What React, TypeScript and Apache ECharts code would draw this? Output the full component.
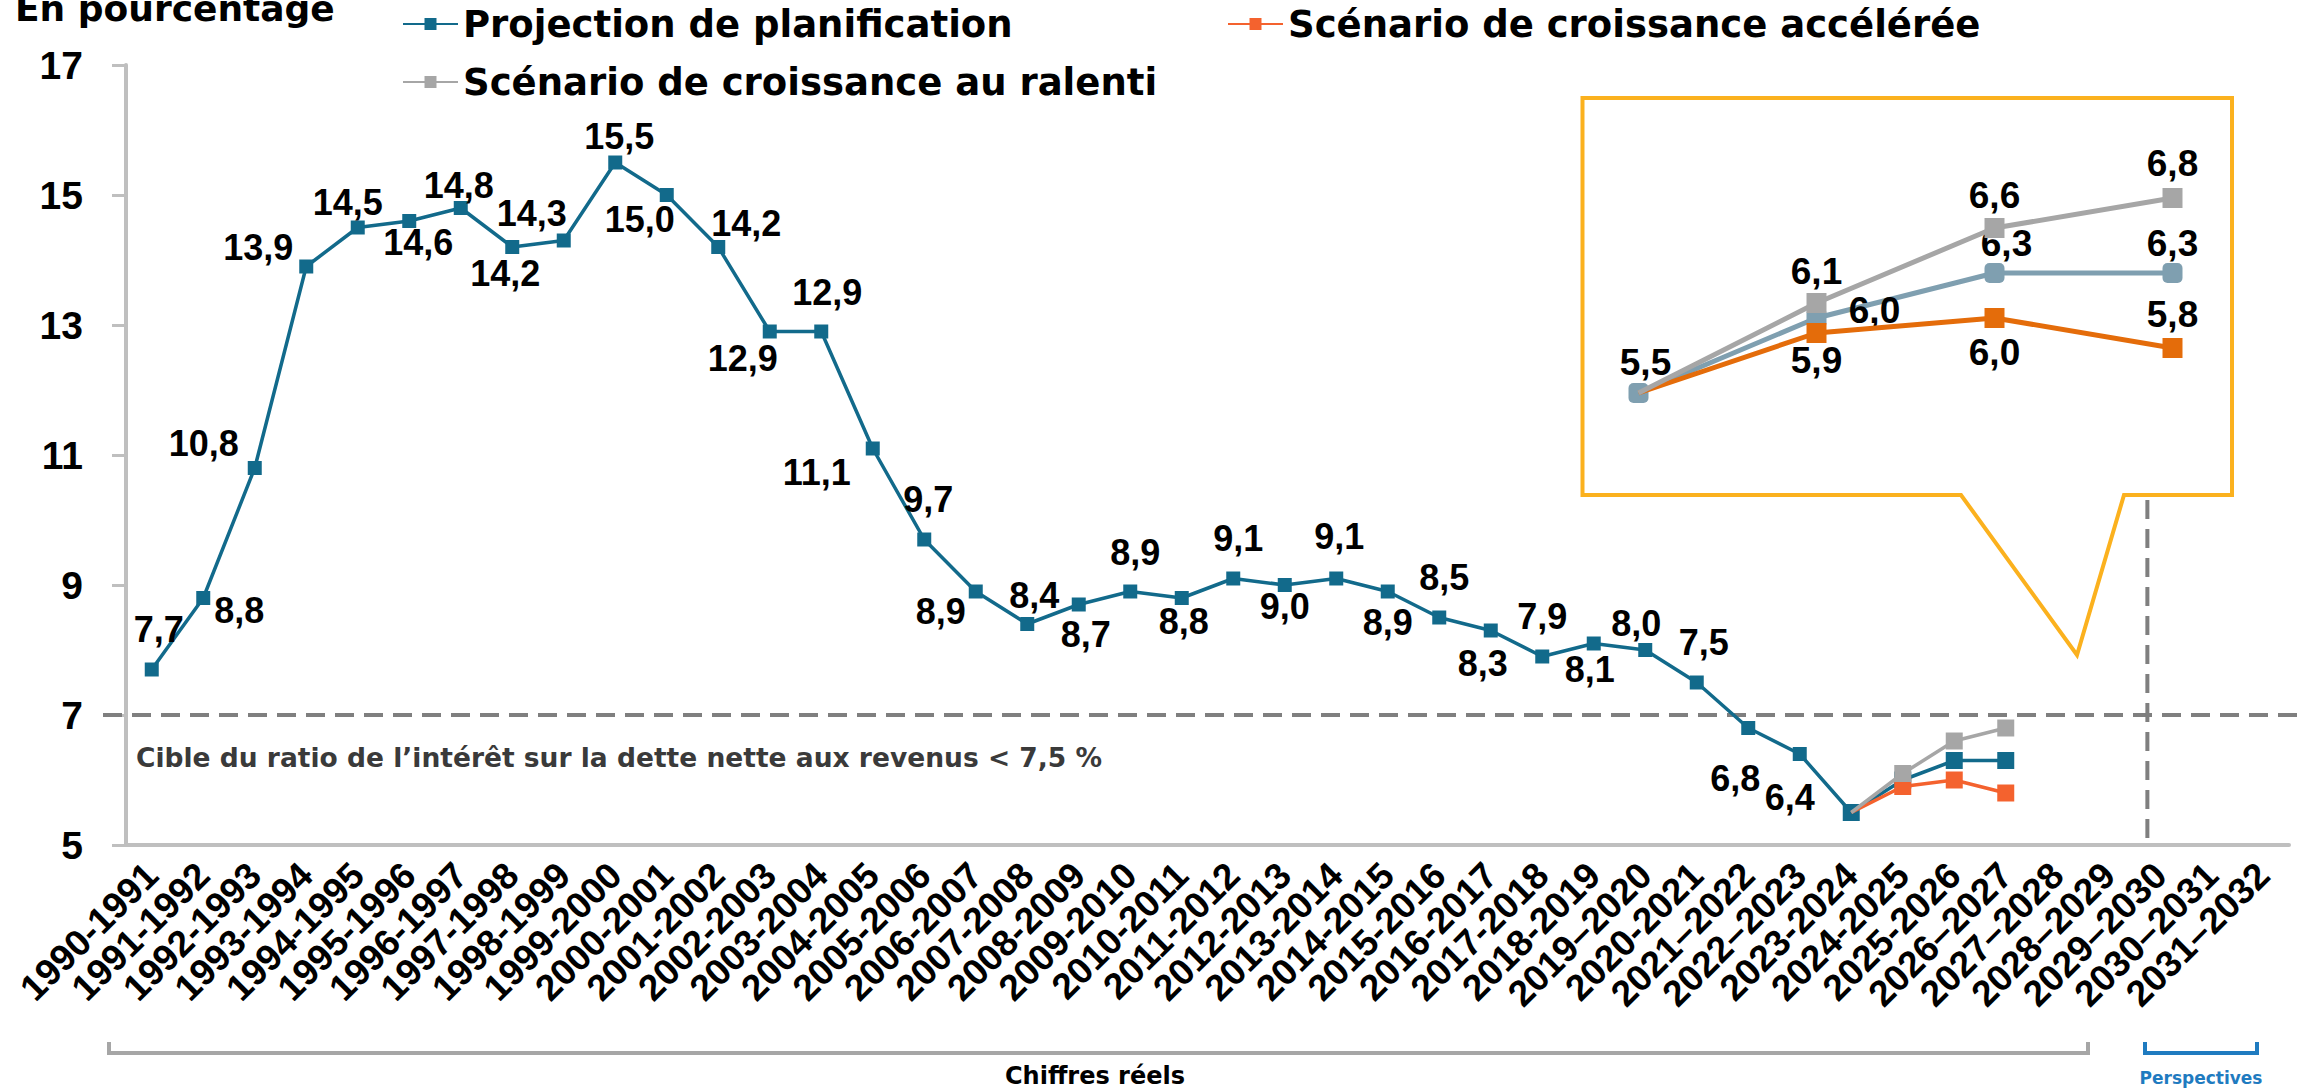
import React, { useEffect, useRef } from "react";
import * as echarts from "echarts";

// ---------- DATA ----------
const CATEGORIES = [
  "1990-1991", "1991-1992", "1992-1993", "1993-1994", "1994-1995", "1995-1996",
  "1996-1997", "1997-1998", "1998-1999", "1999-2000", "2000-2001", "2001-2002",
  "2002-2003", "2003-2004", "2004-2005", "2005-2006", "2006-2007", "2007-2008",
  "2008-2009", "2009-2010", "2010-2011", "2011-2012", "2012-2013", "2013-2014",
  "2014-2015", "2015-2016", "2016-2017", "2017-2018", "2018-2019", "2019–2020",
  "2020-2021", "2021–2022", "2022–2023", "2023-2024", "2024-2025", "2025-2026",
  "2026–2027", "2027–2028", "2028–2029", "2029–2030", "2030–2031", "2031–2032",
];

// Projection de planification (réels jusqu'en 2023-2024, puis projection)
const PLANNING = [
  7.7, 8.8, 10.8, 13.9, 14.5, 14.6, 14.8, 14.2, 14.3, 15.5, 15.0, 14.2,
  12.9, 12.9, 11.1, 9.7, 8.9, 8.4, 8.7, 8.9, 8.8, 9.1, 9.0, 9.1,
  8.9, 8.5, 8.3, 7.9, 8.1, 8.0, 7.5, 6.8, 6.4, 5.5, 6.0, 6.3, 6.3,
];
// Scénarios, de 2023-2024 à 2026-2027
const ACCELERATED = [5.5, 5.9, 6.0, 5.8];
const SLOWER = [5.5, 6.1, 6.6, 6.8];

const INSET_CATEGORIES = ["2023-2024", "2024-2025", "2025-2026", "2026-2027"];
const FORECAST_START = CATEGORIES.indexOf("2023-2024");

const Y_MIN = 5;
const Y_MAX = 17;
const Y_INTERVAL = 2;
const TARGET = 7;

const NAMES = {
  plan: "Projection de planification",
  accel: "Scénario de croissance accélérée",
  slow: "Scénario de croissance au ralenti",
};

// ---------- LAYOUT (label offsets, px) ----------
const MAIN_LABEL_OFFSETS: number[][] = [
  [7, -40], [36, 12], [-51, -25], [-48, -19], [-10, -25], [9, 21],
  [-2, -23], [-7, 26], [-32, -27], [4, -26], [-27, 24], [28, -24],
  [-27, 27], [6, -39], [-56, 24], [4, -40], [-35, 20], [7, -29],
  [7, 30], [5, -39], [2, 23], [5, -40], [0, 21], [3, -42],
  [0, 31], [5, -40], [-8, 33], [0, -40], [-4, 26], [-9, -27],
  [7, -40], [-13, 50], [-10, 43],
];
const INSET_PLAN_OFFSETS = [[7, -31], [58, -8], [12, -30], [0, -30]];
const INSET_ACCEL_OFFSETS = [null, [0, 27], [0, 34], [0, -34]];
const INSET_SLOW_OFFSETS = [null, [0, -32], [0, -33], [0, -35]];

const BLUE = "#126A8B";
const ORANGE = "#F4622E";
const GRAY = "#A6A6A6";
const INSET_BLUE = "#7F9FB0";
const INSET_ORANGE = "#E46C0A";
const AMBER = "#FBB11E";
const AXIS_GRAY = "#BFBFBF";

const NUM_FONT = "Liberation Sans";
const TEXT_FONT = "DejaVu Sans";

const fmt = (v: number) => v.toFixed(1).replace(".", ",");

export default function App() {
  const ref = useRef<HTMLDivElement>(null);

  useEffect(() => {
    document.body.style.margin = "0";
    const chart = echarts.init(ref.current!, null, { renderer: "svg" });

    const labelBase = {
      show: true,
      position: "inside",
      color: "#000",
      fontFamily: NUM_FONT,
      fontWeight: "bold",
      fontSize: 36,
      formatter: (p: any) => fmt(Number(p.value)),
    };
    const insetLabelBase = { ...labelBase, fontSize: 37 };

    const mainPlanData = PLANNING.map((v, i) => ({
      value: v,
      symbolSize: i >= FORECAST_START ? 17 : 14,
      label: i < MAIN_LABEL_OFFSETS.length ? { show: true, offset: MAIN_LABEL_OFFSETS[i] } : { show: false },
    }));
    const padding = new Array(FORECAST_START).fill(null);
    const scenarioData = (arr: number[]) =>
      padding.concat(arr.map((v, k) => ({ value: v, symbolSize: k === 0 ? 0 : 17 })));

    const insetData = (arr: number[], offsets: any[]) =>
      arr.map((v, k) => ({
        value: v,
        symbolSize: offsets[k] ? 20 : 0,
        label: offsets[k] ? { show: true, offset: offsets[k] } : { show: false },
      }));

    const option: any = {
      animation: false,
      backgroundColor: "#fff",
      title: {
        text: "En pourcentage",
        left: 10,
        top: -16,
        textStyle: { fontFamily: TEXT_FONT, fontWeight: "bold", fontSize: 36, color: "#000", lineHeight: 38 },
      },
      legend: [
        { data: [NAMES.plan], left: 402, top: 4 },
        { data: [NAMES.accel], left: 1227, top: 4 },
        { data: [NAMES.slow], left: 402, top: 62 },
      ].map((l) => ({
        ...l,
        padding: 0,
        itemWidth: 55,
        itemHeight: 15,
        itemGap: 0,
        selectedMode: false,
        textStyle: { fontFamily: TEXT_FONT, fontWeight: "bold", fontSize: 37, color: "#000", lineHeight: 40 },
      })),
      grid: [
        { left: 126, top: 65, width: 42 * 51.5, height: 780 },
        { left: 1549.5, top: 168, width: 712, height: 270 },
        { left: 1583, top: 168, width: 648, height: 272 },
      ],
      xAxis: [
        {
          type: "category",
          gridIndex: 0,
          data: CATEGORIES,
          boundaryGap: true,
          axisLine: { lineStyle: { color: AXIS_GRAY, width: 4 } },
          axisTick: { alignWithLabel: true, length: 9, lineStyle: { color: AXIS_GRAY, width: 3 } },
          axisLabel: {
            interval: 0,
            rotate: 45,
            margin: 24,
            color: "#000",
            fontFamily: NUM_FONT,
            fontWeight: "bold",
            fontSize: 37,
          },
        },
        { type: "category", gridIndex: 1, data: INSET_CATEGORIES, boundaryGap: true, show: false },
        {
          type: "category",
          gridIndex: 2,
          data: INSET_CATEGORIES,
          boundaryGap: true,
          axisLine: { show: false },
          axisTick: { show: false },
          axisLabel: { margin: 13, color: "#000", fontFamily: NUM_FONT, fontWeight: "bold", fontSize: 24 },
        },
      ],
      yAxis: [
        {
          type: "value",
          gridIndex: 0,
          min: Y_MIN,
          max: Y_MAX,
          interval: Y_INTERVAL,
          splitLine: { show: false },
          axisLine: { show: true, lineStyle: { color: AXIS_GRAY, width: 4 } },
          axisTick: { show: true, length: 14, lineStyle: { color: AXIS_GRAY, width: 3 } },
          axisLabel: { margin: 43, color: "#000", fontFamily: NUM_FONT, fontWeight: "bold", fontSize: 39 },
        },
        { type: "value", gridIndex: 1, min: 5.2, max: 7.0, show: false },
        { type: "value", gridIndex: 2, min: 0, max: 1, show: false },
      ],
      series: [
        {
          name: NAMES.plan,
          type: "line",
          xAxisIndex: 0,
          yAxisIndex: 0,
          data: mainPlanData,
          symbol: "rect",
          color: BLUE,
          lineStyle: { width: 3.5, color: BLUE },
          itemStyle: { color: BLUE },
          label: labelBase,
          z: 3,
        },
        {
          name: NAMES.accel,
          type: "line",
          xAxisIndex: 0,
          yAxisIndex: 0,
          data: scenarioData(ACCELERATED),
          symbol: "rect",
          color: ORANGE,
          lineStyle: { width: 3.5, color: ORANGE },
          itemStyle: { color: ORANGE },
          label: { show: false },
          z: 4,
        },
        {
          name: NAMES.slow,
          type: "line",
          xAxisIndex: 0,
          yAxisIndex: 0,
          data: scenarioData(SLOWER),
          symbol: "rect",
          color: GRAY,
          lineStyle: { width: 3.5, color: GRAY },
          itemStyle: { color: GRAY },
          label: { show: false },
          z: 5,
        },
        {
          name: NAMES.plan,
          type: "line",
          xAxisIndex: 1,
          yAxisIndex: 1,
          data: insetData(PLANNING.slice(FORECAST_START, FORECAST_START + 4), INSET_PLAN_OFFSETS),
          symbol: "roundRect",
          color: INSET_BLUE,
          lineStyle: { width: 5, color: INSET_BLUE },
          itemStyle: { color: INSET_BLUE },
          label: insetLabelBase,
          z: 6,
        },
        {
          name: NAMES.accel,
          type: "line",
          xAxisIndex: 1,
          yAxisIndex: 1,
          data: insetData(ACCELERATED, INSET_ACCEL_OFFSETS),
          symbol: "rect",
          color: INSET_ORANGE,
          lineStyle: { width: 5, color: INSET_ORANGE },
          itemStyle: { color: INSET_ORANGE },
          label: insetLabelBase,
          z: 7,
        },
        {
          name: NAMES.slow,
          type: "line",
          xAxisIndex: 1,
          yAxisIndex: 1,
          data: insetData(SLOWER, INSET_SLOW_OFFSETS),
          symbol: "rect",
          color: GRAY,
          lineStyle: { width: 5, color: GRAY },
          itemStyle: { color: GRAY },
          label: insetLabelBase,
          z: 8,
        },
      ],
    };

    chart.setOption(option);

    // decorations positioned from the main axes
    const [, yTarget] = chart.convertToPixel({ gridIndex: 0 }, [0, TARGET]) as number[];
    const [xa] = chart.convertToPixel({ gridIndex: 0 }, [38, Y_MIN]) as number[];
    const [xb, yBase] = chart.convertToPixel({ gridIndex: 0 }, [39, Y_MIN]) as number[];
    const xDiv = xa + 0.75 * (xb - xa);

    const dashStyle = { stroke: "#7F7F7F", lineWidth: 4, lineDash: [19, 10] };

    chart.setOption({
      graphic: {
        elements: [
          {
            type: "polygon",
            z: 1,
            shape: {
              points: [
                [1961, 495], [1582.5, 495], [1582.5, 98], [2232, 98],
                [2232, 495], [2124, 495], [2077, 655],
              ],
            },
            style: { fill: "#fff", stroke: AMBER, lineWidth: 4 },
          },
          {
            type: "line",
            z: 1,
            shape: { x1: 103, y1: yTarget, x2: 2305, y2: yTarget },
            style: dashStyle,
          },
          {
            type: "line",
            z: 1,
            shape: { x1: xDiv, y1: 500, x2: xDiv, y2: yBase },
            style: dashStyle,
          },
          {
            type: "text",
            z: 10,
            style: {
              text: "Cible du ratio de l’intérêt sur la dette nette aux revenus < 7,5 %",
              x: 136,
              y: yTarget + 42,
              fill: "#3A3A3A",
              fontFamily: TEXT_FONT,
              fontWeight: "bold",
              fontSize: 26.5,
              align: "left",
              verticalAlign: "middle",
            },
          },
          {
            type: "polyline",
            shape: { points: [[109, 1042], [109, 1053], [2088, 1053], [2088, 1042]] },
            style: { stroke: GRAY, lineWidth: 4, fill: null },
          },
          {
            type: "polyline",
            shape: { points: [[2145, 1042], [2145, 1053], [2257, 1053], [2257, 1042]] },
            style: { stroke: "#1F7BC0", lineWidth: 4, fill: null },
          },
          {
            type: "text",
            style: {
              text: "Chiffres réels",
              x: 1095,
              y: 1076,
              fill: "#000",
              fontFamily: TEXT_FONT,
              fontWeight: "bold",
              fontSize: 24,
              align: "center",
              verticalAlign: "middle",
            },
          },
          {
            type: "text",
            style: {
              text: "Perspectives",
              x: 2201,
              y: 1078,
              fill: "#1F7BC0",
              fontFamily: TEXT_FONT,
              fontWeight: "bold",
              fontSize: 17,
              align: "center",
              verticalAlign: "middle",
            },
          },
        ],
      },
    });

    return () => chart.dispose();
  }, []);

  return <div ref={ref} style={{ width: 2305, height: 1092 }} />;
}
